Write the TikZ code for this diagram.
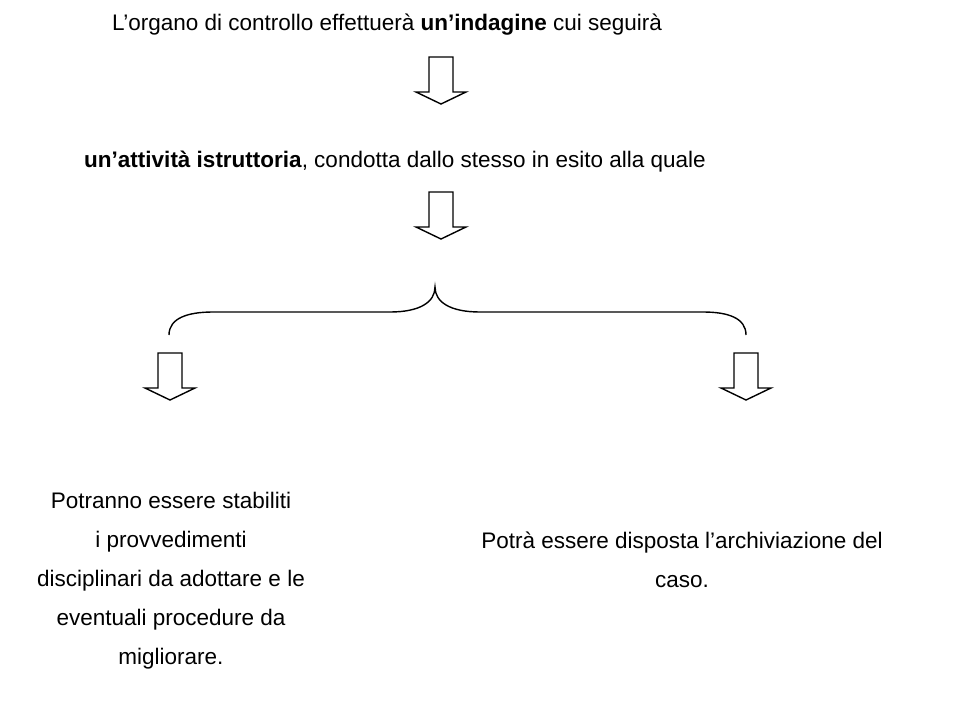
\documentclass[tikz,border=0pt]{standalone}
\usepackage{fontspec}
\setmainfont{Liberation Sans}
\usetikzlibrary{positioning}

\tikzset{
  txt/.style={font=\fontsize{22.5}{39}\selectfont, inner sep=0pt, align=center},
  brace/.style={line width=1.4pt},
  blockarrow/.pic={
    \draw[line width=1.4pt, line join=miter] (-12,0) -- (-12,35) -- (-25,35) -- (0,47) -- (25,35) -- (12,35) -- (12,0) -- cycle;
  }
}

\begin{document}
\begin{tikzpicture}[x=1pt, y=-1pt]
  \useasboundingbox (0,0) rectangle (975,726);

  % first step
  \node[txt, anchor=base] (indagine) at (387,30) {L’organo di controllo effettuerà \textbf{un’indagine} cui seguirà};
  \pic (a1) at (441,57) {blockarrow};

  % second step
  \node[txt, anchor=base] (istruttoria) at (395,167) {\textbf{un’attività istruttoria}, condotta dallo stesso in esito alla quale};
  \pic (a2) at (441,192) {blockarrow};

  % brace
  \coordinate (bl) at (169,335);
  \coordinate (bt) at (435,287);
  \coordinate (br) at (746,335);
  \draw[brace] (bl) .. controls (169,318) and (188,312) .. (213,312) -- (390,312)
    .. controls (420,312) and (435,302) .. (bt)
    .. controls (435,302) and (450,312) .. (480,312) -- (703,312)
    .. controls (728,312) and (746,318) .. (br);

  % outcomes
  \pic (a3) at (170,353) {blockarrow};
  \pic (a4) at (746,353) {blockarrow};

  \node[txt] (provv) at (171,581) {Potranno essere stabiliti\\i provvedimenti\\disciplinari da adottare e le\\eventuali procedure da\\migliorare.};
  \node[txt] (archiv) at (682,560) {Potrà essere disposta l’archiviazione del\\caso.};
\end{tikzpicture}
\end{document}
